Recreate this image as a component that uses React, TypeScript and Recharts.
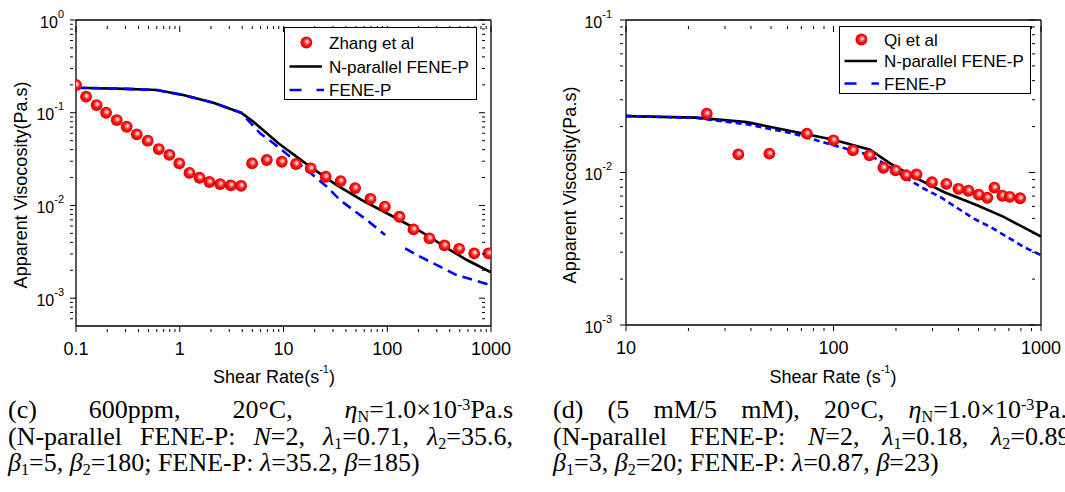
import React from 'react';
import { ComposedChart, Line, Scatter, XAxis, YAxis, Legend } from 'recharts';

const FONT = '"Liberation Sans", Arial, Helvetica, sans-serif';
const SERIF = '"Liberation Serif", "Times New Roman", Times, serif';

// ---------- Panel (c): Zhang et al ----------
const zhangRate = [0.1, 0.125, 0.158, 0.195, 0.247, 0.308, 0.385, 0.491, 0.627, 0.794, 0.99, 1.24, 1.55, 1.93, 2.45, 3.1, 3.9, 4.98, 6.9, 9.63, 13.2, 18.3, 25.5, 35.5, 49, 68.9, 94.8, 131, 179, 255, 356, 493, 689, 946];
const zhangVisc = [0.199, 0.149, 0.121, 0.1, 0.0834, 0.0706, 0.0585, 0.0499, 0.0406, 0.0352, 0.0284, 0.0225, 0.0199, 0.0179, 0.017, 0.0165, 0.0163, 0.0284, 0.0309, 0.0296, 0.028, 0.0251, 0.0204, 0.0183, 0.0154, 0.0118, 0.0097, 0.00755, 0.00552, 0.00442, 0.00371, 0.00341, 0.00304, 0.00304];

const nParCRate = [0.1, 0.3, 0.6, 1.08, 2.11, 3.29, 3.9, 5.13, 8.93, 18, 32.6, 56.9, 115, 207, 255, 356, 586, 1000];
const nParCVisc = [0.186, 0.181, 0.176, 0.155, 0.128, 0.107, 0.1, 0.08, 0.0468, 0.0262, 0.0166, 0.0114, 0.00755, 0.0053, 0.0046, 0.0036, 0.00258, 0.0019];

const feneCRate = [0.1, 0.3, 0.6, 1.08, 2.11, 3.29, 3.9, 5.95, 8.0, 16.8, 26.2, 35.2, 47.2, 63.6, 95.5, 120, 149, 193, 259, 348, 469, 678, 1000];
const feneCVisc = [0.186, 0.181, 0.176, 0.155, 0.128, 0.107, 0.1, 0.06, 0.0468, 0.0241, 0.0159, 0.0114, 0.00891, 0.00696, 0.0048, null, 0.00344, 0.00292, 0.00247, 0.0021, 0.00177, 0.00157, 0.00138];

// ---------- Panel (d): Qi et al ----------
const qiRate = [24.5, 34.8, 49.1, 74.4, 100, 124, 149, 174, 199, 224, 251, 298, 350, 400, 447, 501, 551, 596, 651, 706, 793];
const qiVisc = [0.0243, 0.01316, 0.0133, 0.018, 0.01626, 0.01397, 0.01297, 0.01074, 0.01033, 0.00959, 0.0097, 0.00863, 0.00843, 0.00782, 0.00759, 0.00715, 0.00683, 0.00796, 0.00704, 0.00693, 0.00678];

const nParDRate = [10, 21.9, 38.2, 59.6, 100, 150, 188, 253, 340, 492, 661, 1000];
const nParDVisc = [0.02344, 0.0229, 0.0214, 0.0189, 0.0164, 0.0141, 0.01143, 0.00912, 0.00745, 0.0061, 0.00512, 0.0038];

const feneDRate = [10, 21.9, 38.2, 64.1, 100, 150, 181, 226, 272, 327, 473, 570, 826, 1000];
const feneDVisc = [0.0235, 0.0228, 0.0207, 0.018, 0.01507, 0.013, 0.01115, 0.00912, 0.00785, 0.00691, 0.00499, 0.0044, 0.00325, 0.00287];

// ---------- axes ----------
const xMajorC = [0.1, 1, 10, 100, 1000];
const xLabelC = ['0.1', '1', '10', '100', '1000'];
const yMajorC = [0.001, 0.01, 0.1, 1];
const yExpC = ['-3', '-2', '-1', '0'];
const xMajorD = [10, 100, 1000];
const xLabelD = ['10', '100', '1000'];
const yMajorD = [0.001, 0.01, 0.1];
const yExpD = ['-3', '-2', '-1'];

const legendNamesC = ['Zhang et al', 'N-parallel FENE-P', 'FENE-P'];
const legendNamesD = ['Qi et al', 'N-parallel FENE-P', 'FENE-P'];

const zip = (xs: number[], ys: (number | null)[]) => xs.map((x, i) => ({ x, y: ys[i] }));

const withMinors = (majors: number[], lo: number, hi: number) => {
  const out: number[] = [];
  majors.concat([majors[0] / 10]).forEach((m) => {
    for (let k = 1; k <= 9; k++) {
      const v = +(m * k).toPrecision(6);
      if (v >= lo * 0.9999 && v <= hi * 1.0001) out.push(v);
    }
  });
  return Array.from(new Set(out)).sort((a, b) => a - b);
};

const isMajor = (v: number) => Math.abs(Math.log10(v) - Math.round(Math.log10(v))) < 1e-6;
const idxOf = (arr: number[], v: number) => arr.findIndex((m) => Math.abs(m - v) / m < 1e-6);

const MAJ = 6;
const MIN = 3;

const BottomTick = (props: any) => {
  const { x, y, payload, majors, labels } = props;
  const v = payload.value;
  const maj = isMajor(v);
  const i = idxOf(majors, v);
  return (
    <g>
      <line x1={x} x2={x} y1={y} y2={y - (maj ? MAJ : MIN)} stroke="#000" strokeWidth={1} />
      {maj && i >= 0 && (
        <text x={x} y={y + 17} textAnchor="middle" dominantBaseline="central" fontSize={18} fontFamily={FONT} fill="#000">
          {labels[i]}
        </text>
      )}
    </g>
  );
};

const TopTick = (props: any) => {
  const { x, y, payload } = props;
  const maj = isMajor(payload.value);
  return <line x1={x} x2={x} y1={y} y2={y + (maj ? MAJ : MIN)} stroke="#000" strokeWidth={1} />;
};

const LeftTick = (props: any) => {
  const { x, y, payload, majors, exps, dx } = props;
  const v = payload.value;
  const maj = isMajor(v);
  const i = idxOf(majors, v);
  return (
    <g>
      <line x1={x} x2={x + (maj ? MAJ : MIN)} y1={y} y2={y} stroke="#000" strokeWidth={1} />
      {maj && i >= 0 && (
        <text x={x - dx} y={y + 1.5} textAnchor="end" dominantBaseline="central" fontSize={16} fontFamily={FONT} fill="#000">
          <tspan>10</tspan>
          <tspan fontSize={11} dy={-8}>{exps[i]}</tspan>
        </text>
      )}
    </g>
  );
};

const RightTick = (props: any) => {
  const { x, y, payload } = props;
  const maj = isMajor(payload.value);
  return <line x1={x} x2={x - (maj ? MAJ : MIN)} y1={y} y2={y} stroke="#000" strokeWidth={1} />;
};

const Sphere = (props: any) => {
  const { cx, cy } = props;
  if (cx == null || cy == null) return null;
  return <circle cx={cx} cy={cy} r={5.9} fill="url(#redSphere)" />;
};

const makeLegend = (names: string[], cfg: any) => () => (
  <svg width={cfg.w} height={cfg.h} style={{ display: 'block' }}>
    <rect x={0.5} y={0.5} width={cfg.w - 1} height={cfg.h - 1} fill="#fff" stroke="#000" strokeWidth={1} />
    <circle cx={22.4} cy={cfg.rows[0]} r={5.9} fill="url(#redSphere)" />
    <line x1={5.5} x2={38} y1={cfg.rows[1]} y2={cfg.rows[1]} stroke="#000" strokeWidth={2.6} />
    <line x1={5.5} x2={40} y1={cfg.rows[2]} y2={cfg.rows[2]} stroke="#0000ff" strokeWidth={2.6} strokeDasharray="12 15" />
    {names.map((n, i) => (
      <text key={n} x={45} y={cfg.rows[i] + 0.5} dominantBaseline="central" fontSize={17} fontFamily={FONT} fill="#000">
        {n}
      </text>
    ))}
  </svg>
);

const XTitle = ({ cx, cy, sep }: any) => (
  <text x={cx} y={cy} textAnchor="middle" dominantBaseline="central" fontSize={18} fontFamily={FONT} fill="#000">
    {`Shear Rate${sep}(s`}
    <tspan fontSize={11} dy={-8}>-1</tspan>
    <tspan dy={8}>)</tspan>
  </text>
);

const YTitle = ({ cx, cy, text }: any) => (
  <text x={cx} y={cy} transform={`rotate(-90 ${cx} ${cy})`} textAnchor="middle" dominantBaseline="central" fontSize={18} fontFamily={FONT} fill="#000">
    {text}
  </text>
);

function Panel(p: any) {
  const axisLine = { stroke: '#000', strokeWidth: 1.3 };
  const xTicks = withMinors(p.xMajors, p.xDomain[0], p.xDomain[1]);
  const yTicks = withMinors(p.yMajors, p.yDomain[0], p.yDomain[1]);
  return (
    <ComposedChart width={p.width} height={p.height} margin={p.margin}>
      <XAxis
        xAxisId="b"
        dataKey="x"
        type="number"
        scale="log"
        domain={p.xDomain}
        allowDataOverflow
        ticks={xTicks}
        interval={0}
        tickLine={false}
        tickMargin={0}
        axisLine={axisLine}
        height={50}
        tick={(t: any) => <BottomTick {...t} majors={p.xMajors} labels={p.xLabels} />}
        label={<XTitle cx={p.xTitle[0]} cy={p.xTitle[1]} sep={p.xSep} />}
      />
      <XAxis
        xAxisId="t"
        orientation="top"
        mirror
        dataKey="x"
        type="number"
        scale="log"
        domain={p.xDomain}
        allowDataOverflow
        ticks={xTicks}
        interval={0}
        tickLine={false}
        tickMargin={0}
        axisLine={axisLine}
        tick={(t: any) => <TopTick {...t} />}
      />
      <YAxis
        yAxisId="l"
        dataKey="y"
        type="number"
        scale="log"
        domain={p.yDomain}
        allowDataOverflow
        ticks={yTicks}
        interval={0}
        tickLine={false}
        tickMargin={0}
        axisLine={axisLine}
        width={p.yAxisWidth}
        tick={(t: any) => <LeftTick {...t} majors={p.yMajors} exps={p.yExps} dx={p.yLabelDx} />}
        label={<YTitle cx={p.yTitle[0]} cy={p.yTitle[1]} text={p.yTitleText} />}
      />
      <YAxis
        yAxisId="r"
        orientation="right"
        mirror
        dataKey="y"
        type="number"
        scale="log"
        domain={p.yDomain}
        allowDataOverflow
        ticks={yTicks}
        interval={0}
        tickLine={false}
        tickMargin={0}
        axisLine={axisLine}
        tick={(t: any) => <RightTick {...t} />}
      />
      <Line
        xAxisId="b"
        yAxisId="l"
        data={p.nPar}
        dataKey="y"
        type="linear"
        stroke="#000"
        strokeWidth={2.6}
        dot={false}
        activeDot={false}
        isAnimationActive={false}
      />
      <Line
        xAxisId="b"
        yAxisId="l"
        data={p.fene}
        dataKey="y"
        type="linear"
        stroke="#0000ff"
        strokeWidth={2.6}
        strokeDasharray={p.dash}
        dot={false}
        activeDot={false}
        connectNulls={false}
        isAnimationActive={false}
      />
      <Scatter
        xAxisId="b"
        yAxisId="l"
        data={p.points}
        dataKey="y"
        shape={(s: any) => <Sphere {...s} />}
        isAnimationActive={false}
      />
      <Legend
        layout="vertical"
        align="center"
        verticalAlign="middle"
        content={makeLegend(p.legendNames, p.legend)}
        wrapperStyle={{ position: 'absolute', left: p.legend.left, top: p.legend.top, width: p.legend.w, height: p.legend.h, margin: 0, padding: 0 }}
      />
    </ComposedChart>
  );
}

const sub = { fontSize: '0.62em', verticalAlign: '-0.22em', lineHeight: 0 } as React.CSSProperties;
const sup = { fontSize: '0.62em', verticalAlign: '0.5em', lineHeight: 0 } as React.CSSProperties;
const lineJ = { textAlign: 'justify', textAlignLast: 'justify', height: 26.5, whiteSpace: 'normal' } as React.CSSProperties;
const lineL = { textAlign: 'left', height: 26.5, whiteSpace: 'nowrap' } as React.CSSProperties;

export default function App() {
  return (
    <div style={{ position: 'absolute', left: 0, top: 0, width: 1065, height: 492, background: '#fff', overflow: 'hidden' }}>
      <svg width={0} height={0} style={{ position: 'absolute' }}>
        <defs>
          <radialGradient id="redSphere" cx="0.5" cy="0.5" r="0.55" fx="0.58" fy="0.4">
            <stop offset="0%" stopColor="#ffffff" />
            <stop offset="22%" stopColor="#ff9c9c" />
            <stop offset="50%" stopColor="#ff1a1a" />
            <stop offset="85%" stopColor="#e00000" />
            <stop offset="100%" stopColor="#b80000" />
          </radialGradient>
        </defs>
      </svg>

      <div style={{ position: 'absolute', left: 0, top: 0 }}>
        <Panel
          width={540}
          height={392}
          margin={{ top: 20, right: 49, bottom: 16, left: 6 }}
          yAxisWidth={70}
          xDomain={[0.1, 1000]}
          yDomain={[Math.pow(10, -3.3), 1]}
          xMajors={xMajorC}
          xLabels={xLabelC}
          yMajors={yMajorC}
          yExps={yExpC}
          yLabelDx={6}
          points={zip(zhangRate, zhangVisc)}
          nPar={zip(nParCRate, nParCVisc)}
          fene={zip(feneCRate, feneCVisc)}
          dash="10 6"
          legendNames={legendNamesC}
          legend={{ left: 284, top: 27, w: 193, h: 73, rows: [15.5, 39.5, 63] }}
          xTitle={[274, 377]}
          xSep=""
          yTitle={[21, 185]}
          yTitleText="Apparent Visocosity(Pa.s)"
        />
      </div>

      <div style={{ position: 'absolute', left: 540, top: 0 }}>
        <Panel
          width={525}
          height={392}
          margin={{ top: 20, right: 24, bottom: 17, left: 6 }}
          yAxisWidth={80}
          xDomain={[10, 1000]}
          yDomain={[0.001, 0.1]}
          xMajors={xMajorD}
          xLabels={xLabelD}
          yMajors={yMajorD}
          yExps={yExpD}
          yLabelDx={8}
          points={zip(qiRate, qiVisc)}
          nPar={zip(nParDRate, nParDVisc)}
          fene={zip(feneDRate, feneDVisc)}
          dash="6 4"
          legendNames={legendNamesD}
          legend={{ left: 299, top: 26, w: 192, h: 68, rows: [13.5, 35, 57.5] }}
          xTitle={[293, 377]}
          xSep=" "
          yTitle={[30, 185]}
          yTitleText="Apparent Viscosity(Pa.s)"
        />
      </div>

      <div style={{ position: 'absolute', left: 8, top: 397, width: 505, fontFamily: SERIF, fontSize: 26, lineHeight: '26.5px', color: '#000' }}>
        <div style={lineJ}>
          (c) 600ppm, 20°C, <i>η</i><span style={sub}>N</span>=1.0×10<span style={sup}>-3</span>Pa.s
        </div>
        <div style={lineJ}>
          (N-parallel FENE-P: <i>N</i>=2, <i>λ</i><span style={sub}>1</span>=0.71, <i>λ</i><span style={sub}>2</span>=35.6,
        </div>
        <div style={lineL}>
          <i>β</i><span style={sub}>1</span>=5, <i>β</i><span style={sub}>2</span>=180; FENE-P: <i>λ</i>=35.2, <i>β</i>=185)
        </div>
      </div>

      <div style={{ position: 'absolute', left: 553, top: 397, width: 524, fontFamily: SERIF, fontSize: 26, lineHeight: '26.5px', color: '#000' }}>
        <div style={lineJ}>
          (d) (5 mM/5 mM), 20°C, <i>η</i><span style={sub}>N</span>=1.0×10<span style={sup}>-3</span>Pa.s
        </div>
        <div style={lineJ}>
          (N-parallel FENE-P: <i>N</i>=2, <i>λ</i><span style={sub}>1</span>=0.18, <i>λ</i><span style={sub}>2</span>=0.89,
        </div>
        <div style={lineL}>
          <i>β</i><span style={sub}>1</span>=3, <i>β</i><span style={sub}>2</span>=20; FENE-P: <i>λ</i>=0.87, <i>β</i>=23)
        </div>
      </div>
    </div>
  );
}
